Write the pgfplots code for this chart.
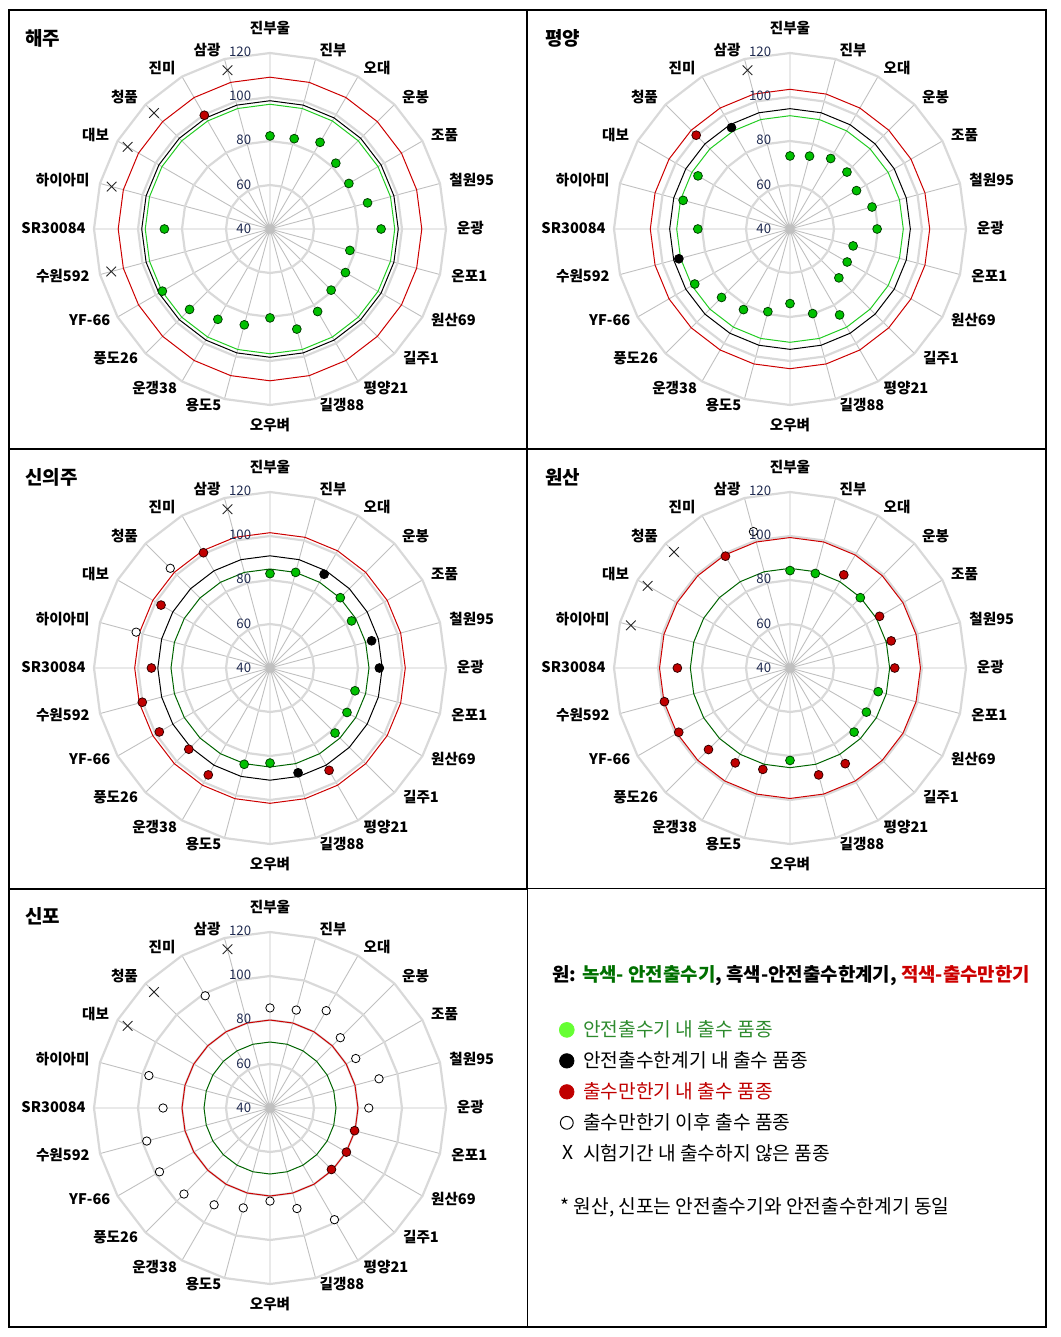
\documentclass[border=0pt]{standalone}
\usepackage{pgfplots}
\usepackage{pgfplotstable}
\pgfplotsset{compat=1.18}
\usepgfplotslibrary{polar}
\usepackage{fontspec}
\setmainfont{Noto Sans CJK KR}
\definecolor{gridc}{HTML}{D9D9D9}
\definecolor{spokec}{HTML}{C0C0C0}
\definecolor{mgreen}{HTML}{00C000}
\definecolor{mred}{HTML}{C00000}
\definecolor{ringlime}{HTML}{22CC22}
\definecolor{ringdk}{HTML}{006400}
\definecolor{ringred}{HTML}{CC0000}
\definecolor{navy}{HTML}{1F2A50}
\definecolor{leggreen}{HTML}{66FF33}
\definecolor{txtgreen}{HTML}{2E8B2E}
\definecolor{hgreen}{HTML}{007000}

\pgfplotstableread{
a b
90 0
105 0
120 0
135 0
150 0
165 0
180 0
195 0
210 0
225 0
240 0
255 0
270 0
285 0
300 0
315 0
330 0
345 0
360 0
375 0
390 0
405 0
420 0
435 0
450 0
}\angtab

\pgfplotsset{
  radar/.style={
    scale only axis, width=176pt, height=176pt, anchor=center,
    xmin=90, xmax=450, ymin=0, ymax=80,
    xtick={90,105,...,435}, xticklabels={},
    ytick={0,20,40,60,80}, yticklabels={},
    xmajorgrids, ymajorgrids=false,
    major grid style={draw=spokec, line width=0.45pt},
    axis line style={draw=none}, tick style={draw=none},
    y filter/.expression={y-40},
    clip=false,
  },
  gridring/.style={draw=gridc, line width=1.1pt, mark=none},
  ringg/.style={draw=ringlime, line width=0.5pt, mark=none},
  ringd/.style={draw=ringdk, line width=0.5pt, mark=none},
  ringk/.style={draw=black, line width=0.5pt, mark=none},
  ringr/.style={draw=ringred, line width=0.5pt, mark=none},
  mg/.style={only marks, mark=*, mark size=2.2pt, mark options={fill=mgreen, draw=black!75!green, line width=0.4pt}},
  mk/.style={only marks, mark=*, mark size=2.2pt, mark options={fill=black, draw=black, line width=0.4pt}},
  mr/.style={only marks, mark=*, mark size=2.2pt, mark options={fill=mred, draw=black!80!red, line width=0.4pt}},
  mo/.style={only marks, mark=*, mark size=2.1pt, mark options={fill=white, draw=black, line width=0.4pt}},
  mx/.style={only marks, mark=x, mark size=3.4pt, mark options={draw=black!85, line width=0.45pt}},
}

\newcommand{\gridrings}{%
  \addplot[gridring] table[x=a, y expr=60] {\angtab};
  \addplot[gridring] table[x=a, y expr=80] {\angtab};
  \addplot[gridring] table[x=a, y expr=100] {\angtab};
  \addplot[gridring] table[x=a, y expr=120] {\angtab};
}

% category and radial labels around a panel centre (offsets in px of the reference)
\newcommand{\catlabels}[2]{%
\begin{scope}[shift={(#1,#2)}, x=0.5pt, y=-0.5pt,
  every node/.style={inner sep=0pt, font=\bfseries\fontsize{7.3}{8}\selectfont}]
\node[anchor=center] at (0,-201) {진부울};
\node[anchor=west] at (49.3,-179.3) {진부};
\node[anchor=west] at (93.3,-161.3) {오대};
\node[anchor=west] at (131.7,-132.3) {운봉};
\node[anchor=west] at (160.7,-94) {조품};
\node[anchor=west] at (179,-49) {철원95};
\node[anchor=west] at (186.5,-1) {운광};
\node[anchor=west] at (181,47) {온포1};
\node[anchor=west] at (160.7,91) {원산69};
\node[anchor=west] at (132.7,129.3) {길주1};
\node[anchor=west] at (93.3,159.3) {평양21};
\node[anchor=west] at (49.3,176) {길갱88};
\node[anchor=center] at (0,196) {오우벼};
\node[anchor=east] at (-48.3,176) {용도5};
\node[anchor=east] at (-92.7,159.3) {운갱38};
\node[anchor=east] at (-131.7,129.3) {풍도26};
\node[anchor=east] at (-159.3,91) {YF-66};
\node[anchor=east] at (-180,47) {수원592};
\node[anchor=east] at (-184,-1) {SR30084};
\node[anchor=east] at (-180,-49) {하이아미};
\node[anchor=east] at (-160.5,-94) {대보};
\node[anchor=east] at (-131.7,-132.3) {청품};
\node[anchor=east] at (-94,-161.3) {진미};
\node[anchor=east] at (-49,-179.3) {삼광};
\begin{scope}[every node/.style={inner sep=0pt, anchor=east, text=navy, font=\fontsize{6.6}{7}\selectfont}]
\node at (-18.5,0) {40};
\node at (-18.5,-44.4) {60};
\node at (-18.5,-88.8) {80};
\node at (-18.5,-133.2) {100};
\node at (-18.5,-177.6) {120};
\end{scope}
\end{scope}}

\begin{document}
\begin{tikzpicture}
\useasboundingbox (0pt,0pt) rectangle (530pt,-668.5pt);

% frame
\draw[line width=1pt] (4.25pt,-5.25pt) rectangle (523pt,-663.5pt);
\draw[line width=1pt] (263.5pt,-5.25pt) -- (263.5pt,-444.25pt);
\draw[line width=1pt] (4.25pt,-224.5pt) -- (523pt,-224.5pt);
\draw[line width=1pt] (4.25pt,-444.25pt) -- (263.5pt,-444.25pt);
\draw[line width=0.5pt] (263.5pt,-444.25pt) -- (523pt,-444.25pt);
\draw[line width=0.5pt] (263.5pt,-444.25pt) -- (263.5pt,-663.5pt);

% titles
\begin{scope}[every node/.style={anchor=west, inner sep=0pt, font=\bfseries\fontsize{9.5}{10}\selectfont}]
\node at (12.5pt,-19pt) {해주};
\node at (272.5pt,-19pt) {평양};
\node at (12.5pt,-238.5pt) {신의주};
\node at (272.5pt,-238.5pt) {원산};
\node at (12.5pt,-458pt) {신포};
\end{scope}

% ---- 해주
\begin{polaraxis}[radar, at={(135pt,-114.5pt)}]
\gridrings
\addplot[ringg] table[x=a, y expr=96.7] {\angtab};
\addplot[ringk] table[x=a, y expr=98.3] {\angtab};
\addplot[ringr] table[x=a, y expr=109] {\angtab};
\addplot[mg] coordinates {(90,82.3) (435,82.5) (420,85.5) (405,82.3) (390,81.4) (375,85.9) (360,90.5) (345,77.6) (330,79.6) (315,79.3) (300,83.3) (285,87.1) (270,80.4) (255,85.1) (240,87.4) (225,91.7) (210,96.5) (180,88)};
\addplot[mr] coordinates {(120,99.7)};
\addplot[mx] coordinates {(195,114.7) (165,114.5) (150,114.7) (135,114.6) (105,114.7)};
\end{polaraxis}
\catlabels{135pt}{-114.5pt}

% ---- 평양
\begin{polaraxis}[radar, at={(395pt,-114.5pt)}]
\gridrings
\addplot[ringg] table[x=a, y expr=91.5] {\angtab};
\addplot[ringk] table[x=a, y expr=94.7] {\angtab};
\addplot[ringr] table[x=a, y expr=103.5] {\angtab};
\addplot[mg] coordinates {(90,73.2) (435,74.3) (420,77) (405,76.6) (390,74.9) (375,78.6) (360,79.6) (345,69.7) (330,70) (315,71.4) (300,85.1) (285,79.8) (270,73.9) (255,78.9) (240,82.3) (225,84) (210,90) (180,81.9) (165,90.3) (150,88.3)};
\addplot[mk] coordinates {(195,92.3) (120,93.2)};
\addplot[mr] coordinates {(135,100.3)};
\addplot[mx] coordinates {(105,114.7)};
\end{polaraxis}
\catlabels{395pt}{-114.5pt}

% ---- 신의주
\begin{polaraxis}[radar, at={(135pt,-334pt)}]
\gridrings
\addplot[ringd] table[x=a, y expr=85] {\angtab};
\addplot[ringk] table[x=a, y expr=91] {\angtab};
\addplot[ringr] table[x=a, y expr=101.5] {\angtab};
\addplot[mg] coordinates {(90,82.9) (435,85) (405,85.2) (390,82.8) (345,80) (330,80.4) (315,81.8) (270,83.2) (255,85.3)};
\addplot[mk] coordinates {(420,89.2) (375,87.8) (360,89.7) (285,89.3)};
\addplot[mr] coordinates {(300,93.7) (240,96.1) (225,92.2) (210,98.1) (195,100.1) (180,93.9) (150,97.2) (120,100.5)};
\addplot[mo] coordinates {(165,103) (135,104.1)};
\addplot[mx] coordinates {(105,114.7)};
\end{polaraxis}
\catlabels{135pt}{-334pt}

% ---- 원산
\begin{polaraxis}[radar, at={(395pt,-334pt)}]
\gridrings
\addplot[ringd] table[x=a, y expr=85.3] {\angtab};
\addplot[ringr] table[x=a, y expr=99.3] {\angtab};
\addplot[mg] coordinates {(90,84.3) (435,84.5) (405,85.2) (345,81.5) (330,80.1) (315,81.2) (270,82)};
\addplot[mr] coordinates {(420,88.9) (390,87) (375,87.6) (360,87.6) (300,90.2) (285,90.3) (255,87.7) (240,89.8) (225,92.4) (210,98.4) (195,99.1) (180,91.2) (120,98.7)};
\addplot[mo] coordinates {(105,104.2)};
\addplot[mx] coordinates {(165,114.9) (150,114.7) (135,114.6)};
\end{polaraxis}
\catlabels{395pt}{-334pt}

% ---- 신포
\begin{polaraxis}[radar, at={(135pt,-554pt)}]
\gridrings
\addplot[ringd] table[x=a, y expr=70] {\angtab};
\addplot[ringr] table[x=a, y expr=80] {\angtab};
\addplot[mo] coordinates {(90,85.5) (435,86.1) (420,91.1) (405,85.2) (390,85) (375,91.3) (360,84.9) (300,98.6) (285,87.3) (270,82.3) (255,87) (240,90.8) (225,95.3) (210,98) (195,98) (180,88.6) (165,97) (120,98.9)};
\addplot[mr] coordinates {(345,79.8) (330,80.1) (315,79.5)};
\addplot[mx] coordinates {(150,114.7) (135,114.6) (105,114.7)};
\end{polaraxis}
\catlabels{135pt}{-554pt}

% ---- legend cell
\node[anchor=west, inner sep=0pt, font=\bfseries\fontsize{9.45}{10}\selectfont] at (276pt,-488pt)
  {원: \textcolor{hgreen}{녹색- 안전출수기}, 흑색-안전출수한계기, \textcolor{ringred}{적색-출수만한기}};
\node[anchor=west, inner sep=0pt, font=\fontsize{9.6}{10}\selectfont] at (280pt,-603.5pt)
  {* 원산, 신포는 안전출수기와 안전출수한계기 동일};

\begin{axis}[hide axis, scale only axis, width=10pt, height=10pt,
  at={(279.5pt,-507pt)}, anchor=south west,
  xmin=0, xmax=1, ymin=0, ymax=1,
  legend style={at={(0,0)}, anchor=north west, draw=none, fill=none,
    inner sep=0pt, row sep=0pt, font=\fontsize{9.6}{10}\selectfont,
    nodes={inner sep=3pt}},
  legend cell align=left]
\addlegendimage{only marks, mark=*, mark size=3.7pt, mark options={fill=leggreen, draw=leggreen}}
\addlegendentry{\hspace{1.5pt}\textcolor{txtgreen}{안전출수기 내 출수 품종}}
\addlegendimage{only marks, mark=*, mark size=3.6pt, mark options={fill=black, draw=black}}
\addlegendentry{\hspace{1.5pt}안전출수한계기 내 출수 품종}
\addlegendimage{only marks, mark=*, mark size=3.6pt, mark options={fill=mred, draw=mred}}
\addlegendentry{\hspace{1.5pt}\textcolor{mred}{출수만한기 내 출수 품종}}
\addlegendimage{only marks, mark=*, mark size=3.2pt, mark options={fill=white, draw=black, line width=0.5pt}}
\addlegendentry{\hspace{1.5pt}출수만한기 이후 출수 품종}
\addlegendimage{legend image code/.code={\node[inner sep=0pt, font=\fontsize{9.6}{10}\selectfont] at (0.3cm-2.5pt,0) {X};}}
\addlegendentry{\hspace{1.5pt}시험기간 내 출수하지 않은 품종}
\end{axis}

\end{tikzpicture}
\end{document}
